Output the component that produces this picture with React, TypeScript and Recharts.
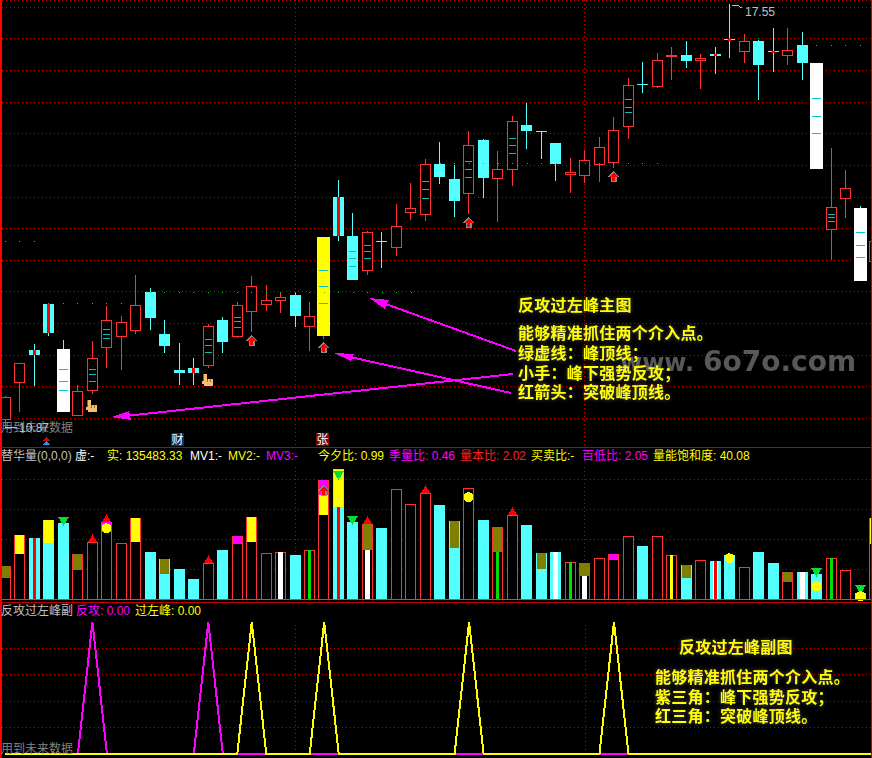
import React from 'react';
import { ComposedChart, Bar, Line, XAxis, YAxis, CartesianGrid, ReferenceLine } from 'recharts';

// ---------- main panel: price ----------
const opens = [10.98,11.56,12.08,12.81,12.10,11.04,11.44,12.12,12.29,12.39,13.00,12.34,11.77,11.80,11.83,12.56,12.28,12.69,12.80,12.85,12.95,12.44,12.30,14.50,13.88,13.33,13.81,13.70,14.25,14.21,15.02,14.79,14.55,15.40,14.79,14.93,15.64,15.54,15.35,14.85,14.84,15.00,15.04,15.61,16.29,16.24,16.71,16.75,16.65,16.76,17.00,16.80,16.97,16.81,16.73,16.90,16.62,13.98,14.47,14.33,13.48];
const highs = [11.35,11.87,12.18,12.81,12.24,11.53,12.22,12.78,12.62,13.27,13.06,12.56,12.19,11.96,12.49,12.60,12.84,13.25,13.11,12.99,12.99,12.84,13.87,14.77,14.25,13.96,13.95,14.39,14.72,15.10,15.37,15.01,15.54,15.42,15.23,15.78,15.99,15.54,15.35,15.12,15.24,15.45,15.77,16.38,16.64,16.77,16.87,16.97,16.76,16.87,17.55,17.08,16.99,17.17,17.17,17.11,16.62,15.28,14.93,14.36,13.80];
const lows = [10.87,11.11,11.51,12.30,11.10,11.04,11.39,11.79,11.77,12.34,12.40,12.03,11.53,11.53,11.80,12.03,12.27,12.37,12.70,12.67,12.45,12.07,12.26,13.81,13.19,13.27,13.38,13.57,14.14,14.12,14.71,14.18,14.24,14.48,14.11,14.67,15.26,15.10,14.75,14.56,14.72,14.74,14.96,15.42,16.15,16.22,16.35,16.54,16.21,16.44,16.70,16.62,16.03,16.48,16.59,16.35,14.94,13.50,14.17,13.17,13.48];
const closes = [11.34,11.87,12.00,12.35,11.10,11.44,11.95,12.55,12.52,12.79,12.59,12.15,11.72,11.72,12.46,12.21,12.79,13.10,12.88,12.92,12.62,12.62,13.87,13.88,13.19,13.94,13.79,14.05,14.32,15.03,14.82,14.44,15.33,14.80,14.94,15.71,15.54,15.53,15.02,14.90,15.08,15.29,15.56,16.27,16.27,16.66,16.75,16.65,16.70,16.73,16.98,16.96,16.59,16.79,16.82,16.62,14.94,14.35,14.64,13.17,13.80];
const peakLine = [13.80,13.80,13.80,12.81,12.81,12.81,12.81,12.81,12.81,12.81,12.99,12.99,12.99,12.99,12.99,12.99,12.99,12.99,12.99,12.99,12.99,12.99,12.99,12.99,12.99,12.99,12.99,12.99,12.99,15.03,15.03,15.03,15.03,15.03,15.03,15.03,15.03,15.03,15.03,15.03,15.03,15.03,15.03,15.03,15.03,15.03,null,null,null,null,17.00,17.00,17.00,null,null,null,16.90,16.90,16.90,16.90,16.90];
const whiteBodies = [4, 56, 59];
const yellowBodies = [22];
const redCores = [2, 3, 13, 23, 49, 50, 53];
const bodyMarks: Record<number, number[]> = {
  4: [11.78, 11.6, 11.45], 6: [11.78, 11.7, 11.6], 7: [12.41, 12.33, 12.27], 14: [12.25, 12.16, 12.05],
  16: [12.61, 12.54, 12.44], 22: [13.34, 13.09, 12.82], 24: [13.64, 13.53, 13.41], 25: [13.74, 13.64, 13.53],
  29: [14.75, 14.62, 14.48], 32: [15.07, 14.94, 14.81], 35: [15.44, 15.32, 15.19], 43: [16.05, 15.93, 15.84],
  56: [16.06, 15.78, 15.51], 57: [14.24, 14.18, 14.12], 59: [13.94, 13.75, 13.56], 60: [13.66, 13.6],
};
const arrowSignals = [17, 22, 32, 42];
const handSignals = [6, 14];
const priceDomain = [10.549, 17.615];
const priceTicks = [11, 11.5, 12, 12.5, 13, 13.5, 14, 14.5, 15, 15.5, 16, 16.5, 17, 17.5];

// ---------- middle panel: volume ----------
const volumes = [55000,106700,101700,131700,126700,75000,95000,128300,93300,135000,78300,66700,50000,33300,60000,81700,105000,136700,76700,78300,73300,81700,198300,216700,128300,125000,118300,183300,158300,176700,156700,130000,185000,131700,120000,140000,123300,76700,78300,61700,60000,68300,75000,105000,88300,105000,73300,56700,65000,63300,73300,53300,78300,60000,45000,45000,41700,68300,48300,10000,135483];
const volumeCaps: [number, string, number, number][] = [
  [0,'#808000',35000,55000],[1,'#ffff00',75000,106700],[3,'#ffff00',93300,131700],[5,'#808000',48300,75000],
  [7,'#ff00ff',111700,128300],[9,'#ffff00',95000,135000],[11,'#808000',41700,66700],[16,'#ff00ff',91700,105000],
  [17,'#ffff00',95000,136700],[22,'#ffff00',140000,173300],[22,'#ff00ff',173300,198300],[23,'#ffff00',153300,215000],
  [25,'#808000',81700,125000],[31,'#808000',85000,130000],[34,'#808000',78300,120000],[37,'#808000',50000,76700],
  [40,'#808000',38300,60000],[42,'#ff00ff',65000,75000],[47,'#808000',35000,56700],[54,'#808000',28300,45000],
  [60,'#ffff00',91700,135483],
];
const volumeStripes: [number, string, number, number][] = [
  [2,'#ff0000',101700,3],[19,'#ffffff',78300,5],[21,'#00e000',81700,3],[23,'#ff0000',153300,3],[25,'#ffffff',81700,5],
  [34,'#00e000',78300,3],[38,'#ffffff',78300,5],[39,'#00e000',61700,3],[40,'#ffffff',38300,5],[46,'#ffff00',73300,3],
  [49,'#ffffff',63300,5],[49,'#ff0000',63300,3],[55,'#ffffff',45000,5],[57,'#00e000',68300,3],
];
const redTriangles = [6, 7, 14, 25, 29, 35];
const greenTriangles: [number, number][] = [[4,121700],[23,198300],[24,123300],[56,36700],[59,9500]];
const yellowDots: [number, number][] = [[7,118300],[9,123000],[32,170000],[50,68300],[56,22000],[59,5000]];
const volumeArrow: [number, number] = [22, 186700];
const volumeTicks = [50000, 100000, 150000, 200000];
const volumeGuideTop = 220000;

// ---------- bottom panel ----------
const counterAttack = [0,0,0,0,0,0,5,0,0,0,0,0,0,0,5,0,0,0,0,0,0,0,0,0,0,0,0,0,0,0,0,0,0,0,0,0,0,0,0,0,0,0,0,0,0,0,0,0,0,0,0,0,0,0,0,0,0,0,0,0,0];
const pastPeak = [0,0,0,0,0,0,0,0,0,0,0,0,0,0,0,0,0,5,0,0,0,0,5,0,0,0,0,0,0,0,0,0,5,0,0,0,0,0,0,0,0,0,5,0,0,0,0,0,0,0,0,0,0,0,0,0,0,0,0,0,0];
const signalTicks = [1, 2, 3, 4];
const guideIndexes = [20, 40];

// ---------- texts ----------
const volumeLegend: [string, string][] = [
  ['替华量(0,0,0)', '#c0c0c0'], ['虚:-', '#ffffff'], ['实: 135483.33', '#ffff00'], ['MV1:-', '#ffffff'], ['MV2:-', '#ffff00'], ['MV3:-', '#ff00ff'],
  ['今夕比: 0.99', '#ffff00'], ['季量比: 0.46', '#ff00ff'], ['量本比: 2.02', '#ff2020'], ['买卖比:-', '#ffff00'], ['百低比: 2.05', '#ff00ff'], ['量能饱和度: 40.08', '#ffff00'],
];
const volumeLegendX = [1, 75, 107, 190, 228, 266, 318, 389, 460, 531, 582, 653];
const signalLegend: [string, string][] = [['反攻过左峰副', '#c0c0c0'], ['反攻: 0.00', '#ff00ff'], ['过左峰: 0.00', '#ffff00']];
const signalLegendX = [1, 76, 135];
const mainNotes = ['能够精准抓住两个介入点。', '绿虚线：峰顶线；', '小手：峰下强势反攻；', '红箭头：突破峰顶线。'];
const subNotes = ['能够精准抓住两个介入点。', '紫三角：峰下强势反攻；', '红三角：突破峰顶线。'];

const UP = '#ff3232';
const DOWN = '#54ffff';
const GRID = '#c00000';
const slots = opens.map((_, i) => String(i + 1));

const priceRows = opens.map((o, i) => ({ slot: slots[i], idx: i, o, h: highs[i], l: lows[i], c: closes[i], range: [lows[i], highs[i]], peak: peakLine[i] }));
const volumeRows = volumes.map((v, i) => ({ slot: slots[i], idx: i, v }));
const signalRows = counterAttack.map((a, i) => ({ slot: slots[i], a, b: pastPeak[i] }));

function Guide({ cx, y1, y2 }: { cx: number; y1: number; y2: number }) {
  return <line x1={cx + 0.5} x2={cx + 0.5} y1={y1} y2={y2} stroke={GRID} strokeDasharray="1 3" />;
}

function UpArrow({ cx, top }: { cx: number; top: number }) {
  const poly = (pts: number[][]) => pts.map(([dx, dy]) => `${cx + dx + 0.5},${top + dy}`).join(' ');
  return (
    <g>
      <polygon points={poly([[0, 0], [5.5, 5.5], [3, 5.5], [3, 11], [-3, 11], [-3, 5.5], [-5.5, 5.5]])} fill="#8a8a8a" />
      <polygon points={poly([[0, 1.5], [4, 5.5], [1.5, 5.5], [1.5, 10], [-1.5, 10], [-1.5, 5.5], [-4, 5.5]])} fill="#ff0000" />
    </g>
  );
}

function Hand({ cx, top }: { cx: number; top: number }) {
  const x = cx - 4;
  return (
    <g>
      <rect x={x} y={top} width={3} height={8} fill="#f4c070" />
      <rect x={x} y={top + 5} width={9} height={7} fill="#f4c070" />
      <rect x={x - 2} y={top + 7} width={2} height={3} fill="#f4c070" />
      <rect x={x + 3} y={top + 5} width={1} height={3} fill="#a06820" />
      <rect x={x + 6} y={top + 5} width={1} height={3} fill="#a06820" />
      <rect x={x - 1} y={top} width={1} height={7} fill="#806030" />
    </g>
  );
}

function Candle(props: any) {
  const { x, y, width, height, payload } = props;
  const { idx, o, h, l, c } = payload;
  const toY = (p: number) => y + ((h - p) / (h - l)) * height;
  const cx = Math.floor(x + width / 2);
  const top = Math.round(toY(Math.max(o, c)));
  const bottom = Math.round(toY(Math.min(o, c)));
  const hiY = Math.round(y);
  const loY = Math.round(y + height);
  const marks = bodyMarks[idx] || [];
  const white = whiteBodies.includes(idx);
  const yellow = yellowBodies.includes(idx);
  const rising = c > o && !white && !yellow;
  const wick = white ? DOWN : yellow ? UP : rising ? UP : DOWN;
  return (
    <g>
      {guideIndexes.includes(idx) && <Guide cx={cx} y1={toY(priceDomain[1])} y2={toY(priceDomain[0])} />}
      <rect x={cx} y={hiY} width={1} height={Math.max(top - hiY, 0)} fill={wick} />
      <rect x={cx} y={bottom} width={1} height={Math.max(loY - bottom, 0)} fill={wick} />
      {white || yellow ? (
        <rect x={cx - 6} y={top} width={13} height={Math.max(bottom - top, 1)} fill={white ? '#ffffff' : '#ffff00'} />
      ) : rising ? (
        <rect x={cx - 4.5} y={top + 0.5} width={10} height={Math.max(bottom - top - 1, 1)} fill="#000000" stroke={UP} strokeWidth={1} />
      ) : (
        <rect x={cx - 5} y={top} width={11} height={Math.max(bottom - top, 1)} fill={DOWN} />
      )}
      {redCores.includes(idx) && <rect x={cx - 1} y={top} width={3} height={Math.max(bottom - top, 2)} fill="#ff0000" />}
      {marks.map((m) => (
        <rect key={m} x={cx - (white || yellow ? 4 : 3)} y={Math.round(toY(m))} width={white || yellow ? 9 : 7} height={1} fill={white || yellow ? '#00c8d0' : '#00c0c0'} />
      ))}
      {arrowSignals.includes(idx) && <UpArrow cx={cx} top={loY + 3} />}
      {handSignals.includes(idx) && <Hand cx={cx} top={loY + 6} />}
    </g>
  );
}

function VolumeBar(props: any) {
  const { x, y, width, height, payload } = props;
  const { idx, v } = payload;
  const toY = (val: number) => y + height - (val / v) * height;
  const cx = Math.floor(x + width / 2);
  const rising = closes[idx] > opens[idx] && !whiteBodies.includes(idx);
  const base = Math.round(y + height);
  const top = Math.round(y);
  const solid = !rising && idx !== 22;
  const caps = volumeCaps.filter((k) => k[0] === idx);
  const stripes = volumeStripes.filter((k) => k[0] === idx);
  const dots = yellowDots.filter((k) => k[0] === idx);
  const green = greenTriangles.find((k) => k[0] === idx);
  return (
    <g>
      {guideIndexes.includes(idx) && <Guide cx={cx} y1={toY(volumeGuideTop)} y2={base} />}
      {solid && idx !== 59 ? (
        <rect x={cx - 5} y={top} width={11} height={base - top} fill={DOWN} />
      ) : (
        <rect x={cx - 4.5} y={top + 0.5} width={10} height={base - top} fill="#000000" stroke={idx === 59 ? '#d0d0d0' : UP} strokeWidth={1} />
      )}
      {stripes.map((s) => (
        <rect key={s[1]} x={cx - Math.floor(s[3] / 2)} y={Math.round(toY(s[2]))} width={s[3]} height={base - Math.round(toY(s[2]))} fill={s[1]} />
      ))}
      {caps.map((s) => (
        <rect key={s[1]} x={cx - 4} y={Math.round(toY(s[3]))} width={9} height={Math.round(toY(s[2])) - Math.round(toY(s[3]))} fill={s[1]} />
      ))}
      {redTriangles.includes(idx) && <polygon points={`${cx - 4},${top} ${cx + 5},${top} ${cx + 0.5},${top - 8}`} fill="#ff0000" />}
      {green && (
        <polygon points={`${cx - 5},${Math.round(toY(green[1])) - 9} ${cx + 6},${Math.round(toY(green[1])) - 9} ${cx + 0.5},${Math.round(toY(green[1]))}`} fill="#00e030" />
      )}
      {dots.map((d) => (
        <circle key={d[1]} cx={cx + 0.5} cy={toY(d[1])} r={5} fill="#ffff00" />
      ))}
      {volumeArrow[0] === idx && <UpArrow cx={cx} top={Math.round(toY(volumeArrow[1])) - 2} />}
    </g>
  );
}

const PeakDot = (props: any) => {
  const { cx, cy, key } = props;
  if (cy == null || cx == null) return <g key={key} />;
  return <rect key={key} x={Math.floor(cx)} y={Math.floor(cy)} width={1} height={1} fill="#00e000" />;
};

const chartWidth = 884;
const chartMargin = { top: 0, right: 0, bottom: 0, left: 0.25 };

function MagentaArrow({ from, tip, w1, w2 }: { from: number[]; tip: number[]; w1: number[]; w2: number[] }) {
  return (
    <g>
      <line x1={from[0]} y1={from[1]} x2={(w1[0] + w2[0]) / 2} y2={(w1[1] + w2[1]) / 2} stroke="#ff00ff" strokeWidth={2} />
      <polygon points={`${tip[0]},${tip[1]} ${w1[0]},${w1[1]} ${w2[0]},${w2[1]}`} fill="#ff00ff" />
    </g>
  );
}

const noteFont = '"Noto Sans CJK SC", sans-serif';
const uiFont = '"Liberation Sans", "Noto Sans CJK SC", sans-serif';
const glow = { filter: 'drop-shadow(0 0 2px rgba(150,150,150,0.55))' };

function Note({ x, y, children }: { x: number; y: number; children: React.ReactNode }) {
  return (
    <text x={x} y={y} fontFamily={noteFont} fontWeight={700} fontSize={16} fill="#ffff00" style={{ ...glow, letterSpacing: '0.25px' }}>
      {children}
    </text>
  );
}

export default function App() {
  return (
    <div style={{ position: 'absolute', left: 0, top: 0, width: 872, height: 758, background: '#000', overflow: 'hidden' }}>
      <style>{`svg * { shape-rendering: crispEdges; }`}</style>

      <div style={{ position: 'absolute', left: -2, top: 0 }}>
        <ComposedChart width={chartWidth} height={447} data={priceRows} margin={chartMargin} barCategoryGap={0}>
          <XAxis dataKey="slot" hide />
          <YAxis hide domain={priceDomain} ticks={priceTicks} allowDataOverflow />
          <CartesianGrid vertical={false} stroke={GRID} strokeDasharray="1 3" />
          <Bar dataKey="range" shape={Candle} isAnimationActive={false} />
          <Line dataKey="peak" stroke="none" dot={PeakDot} activeDot={false} connectNulls={false} isAnimationActive={false} />
        </ComposedChart>
      </div>

      <div style={{ position: 'absolute', left: -2, top: 447 }}>
        <ComposedChart width={chartWidth} height={155} data={volumeRows} margin={chartMargin} barCategoryGap={0}>
          <XAxis dataKey="slot" hide />
          <YAxis hide domain={[-4500, 253833]} ticks={volumeTicks} allowDataOverflow />
          <CartesianGrid vertical={false} stroke={GRID} strokeDasharray="1 3" />
          <Bar dataKey="v" shape={VolumeBar} isAnimationActive={false} />
          <ReferenceLine y={0} stroke={UP} />
        </ComposedChart>
      </div>

      <div style={{ position: 'absolute', left: -2, top: 602 }}>
        <ComposedChart width={chartWidth} height={156} data={signalRows} margin={chartMargin}>
          <XAxis dataKey="slot" hide scale="band" />
          <YAxis hide domain={[-0.163, 5.761]} ticks={signalTicks} allowDataOverflow />
          <CartesianGrid vertical={false} stroke={GRID} strokeDasharray="1 3" />
          {guideIndexes.map((g) => (
            <ReferenceLine key={g} segment={[{ x: slots[g], y: 0 }, { x: slots[g], y: 5 }]} stroke={GRID} strokeDasharray="1 3" />
          ))}
          <Line type="linear" dataKey="a" stroke="#ff00ff" strokeWidth={2} dot={false} activeDot={false} isAnimationActive={false} />
          <Line type="linear" dataKey="b" stroke="#ffff00" strokeWidth={2} dot={false} activeDot={false} isAnimationActive={false} />
        </ComposedChart>
      </div>

      <svg width={872} height={758} style={{ position: 'absolute', left: 0, top: 0, pointerEvents: 'none' }}>
        <rect x={0} y={0} width={2} height={758} fill="#ff0000" />
        <rect x={871} y={0} width={1} height={758} fill="#d00000" />
        <rect x={0} y={447} width={872} height={1} fill="#c00000" />
        <rect x={0} y={602} width={872} height={1} fill="#c00000" />

        {/* watermark */}
        <text x={620} y={371} fontFamily='"DejaVu Sans", sans-serif' fontWeight={700} fill="#585858" style={{ filter: 'blur(0.5px)' }}>
          <tspan fontSize={24}>www.</tspan>
          <tspan x={703} fontSize={28}>6o7o.com</tspan>
        </text>

        {/* magenta pointers */}
        <MagentaArrow from={[516, 351]} tip={[369, 298]} w1={[389, 300]} w2={[385, 309]} />
        <MagentaArrow from={[511, 393]} tip={[334, 353]} w1={[354, 354]} w2={[351, 361]} />
        <MagentaArrow from={[513, 374]} tip={[111, 417]} w1={[129, 411]} w2={[131, 420]} />

        {/* main notes */}
        <Note x={518} y={311}>反攻过左峰主图</Note>
        {mainNotes.map((t, i) => (
          <Note key={t} x={518} y={339 + i * 19.8}>{t}</Note>
        ))}

        {/* sub notes */}
        <Note x={679} y={653}>反攻过左峰副图</Note>
        {subNotes.map((t, i) => (
          <Note key={t} x={655} y={683 + i * 19.5}>{t}</Note>
        ))}

        {/* extremes */}
        <polyline points="731.5,5 737,5 742,8" fill="none" stroke="#c0c0c0" />
        <text x={745} y={16} fontFamily={uiFont} fontSize={12} fill="#c0c0c0">17.55</text>
        <text x={1} y={432} fontFamily={uiFont} fontSize={12} fill="#808080">用到未来数据</text>
        <polyline points="5,427 17,427" fill="none" stroke="#c0c0c0" />
        <text x={19} y={432} fontFamily={uiFont} fontSize={12} fill="#c0c0c0">10.87</text>

        {/* event icons */}
        <polygon points="43,441 50,441 46.5,437" fill="#e00000" />
        <polygon points="43,445 50,445 46.5,441" fill="#2090ff" />
        <rect x={171} y={433} width={13} height={13} fill="#0a3264" />
        <text x={171.5} y={444} fontFamily={uiFont} fontSize={12} fill="#ffffff">财</text>
        <rect x={316} y={433} width={13} height={13} fill="#7a0a0a" />
        <text x={316.5} y={444} fontFamily={uiFont} fontSize={12} fill="#ffffff">张</text>

        {/* legends */}
        {volumeLegend.map(([t, color], i) => (
          <text key={t} x={volumeLegendX[i]} y={460} fontFamily={uiFont} fontSize={12} fill={color}>{t}</text>
        ))}
        {signalLegend.map(([t, color], i) => (
          <text key={t} x={signalLegendX[i]} y={615} fontFamily={uiFont} fontSize={12} fill={color}>{t}</text>
        ))}
        <text x={1} y={753} fontFamily={uiFont} fontSize={12} fill="#808080">用到未来数据</text>
      </svg>
    </div>
  );
}
